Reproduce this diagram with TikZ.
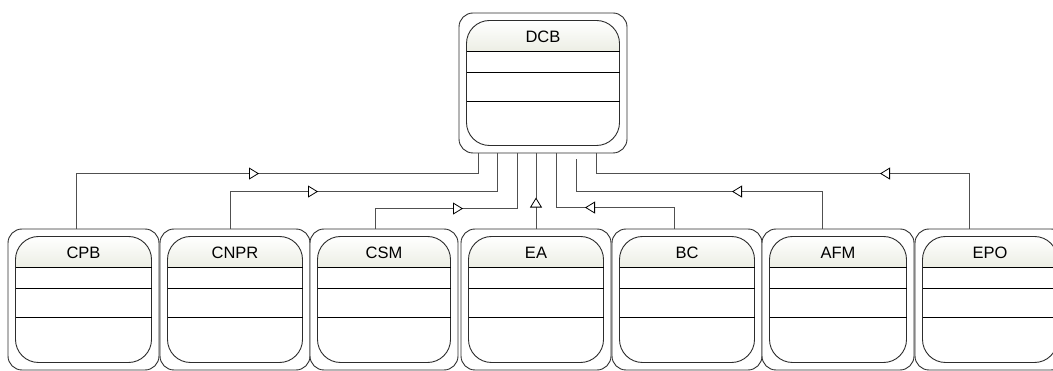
\documentclass[tikz,border=0pt]{standalone}
\usepackage{fontspec}
\setmainfont{Liberation Sans}
\usetikzlibrary{arrows.meta,decorations.markings}
\definecolor{headcol}{RGB}{236,238,228}
\definecolor{edgecol}{RGB}{45,45,45}
\definecolor{conncol}{RGB}{80,80,80}
\tikzset{
  outerbox/.style={draw=edgecol, line width=0.9pt, rounded corners=14pt, inner sep=0pt, fill=white},
  innerbox/.style={draw=edgecol, line width=0.9pt, rounded corners=23pt},
  sepline/.style={draw=black, line width=0.8pt},
  titletext/.style={font=\fontsize{16.5}{19}\selectfont, inner sep=0pt},
  conn/.style={draw=conncol, line width=1pt},
  arrowat/.style={postaction={decorate, decoration={markings,
    mark=at position #1pt with {\arrow[line width=0.8pt, black]{Triangle[fill=white, length=10pt, width=12pt]}}}}}
}
\newcommand{\classbox}[6]{%
  \pgfmathsetmacro\xl{#2+7.5}\pgfmathsetmacro\xr{#2+#4-7.5}%
  \pgfmathsetmacro\yt{#3+7.5}\pgfmathsetmacro\yb{#3+#5-7.5}%
  \pgfmathsetmacro\cx{#2+#4/2}\pgfmathsetmacro\cy{#3+#5/2}%
  \node[outerbox, minimum width=#4pt, minimum height=#5pt] (#1) at (\cx,\cy) {};
  \begin{scope}
    \clip[rounded corners=23pt] (\xl,\yt) rectangle (\xr,\yb);
    \shade[top color=white, bottom color=headcol] (\xl,\yt) rectangle (\xr,{\yt+31});
  \end{scope}
  \draw[innerbox] (\xl,\yt) rectangle (\xr,\yb);
  \draw[sepline] (\xl,{\yt+31}) -- (\xr,{\yt+31});
  \draw[sepline] (\xl,{\yt+52}) -- (\xr,{\yt+52});
  \draw[sepline] (\xl,{\yt+81}) -- (\xr,{\yt+81});
  \node[titletext] (#1-title) at (\cx,{\yt+16}) {#6};
}
\begin{document}
\begin{tikzpicture}[x=1pt, y=-1pt]
\useasboundingbox (0,0) rectangle (1053,371);
\classbox{dcb}{459}{13}{168}{140}{DCB}
\classbox{cpb}{8}{229}{151}{141}{CPB}
\classbox{cnpr}{160}{229}{150}{141}{CNPR}
\classbox{csm}{310}{229}{148}{141}{CSM}
\classbox{ea}{461}{229}{150}{141}{EA}
\classbox{bc}{612}{229}{150}{141}{BC}
\classbox{afm}{762}{229}{152}{141}{AFM}
\classbox{epo}{915}{229}{150}{141}{EPO}
% connectors
\draw[conn, arrowat=238] ([xshift=-7.5pt]cpb.north) -- ++(0,-55) -| ([xshift=-65pt]dcb.south);
\draw[conn, arrowat=125] ([xshift=-5pt]cnpr.north) -- ++(0,-37) -| ([xshift=-46pt]dcb.south);
\draw[conn, arrowat=108] ([xshift=-9pt]csm.north) -- ++(0,-20) -| ([xshift=-26pt]dcb.south);
\draw[conn, arrowat=31] (ea.north) -- (ea.north |- dcb.south);
\draw[conn, arrowat=110] ([xshift=-13pt]bc.north) -- ++(0,-21) -| ([xshift=13pt]dcb.south);
\draw[conn, arrowat=127] ([xshift=-16pt]afm.north) -- ++(0,-37) -| ([xshift=33pt,yshift=-6pt]dcb.south);
\draw[conn, arrowat=144] ([xshift=-21pt]epo.north) -- ++(0,-55) -| ([xshift=53pt]dcb.south);
\end{tikzpicture}
\end{document}
